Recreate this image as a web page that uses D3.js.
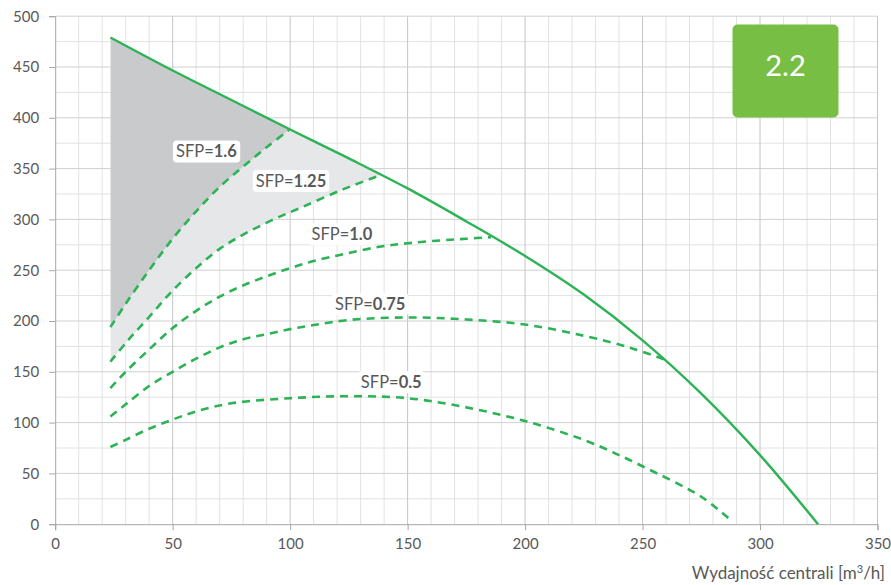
<!DOCTYPE html>
<html>
<head>
<meta charset="utf-8">
<script src="https://cdn.jsdelivr.net/npm/d3@7"></script>
<style>
  html, body { margin: 0; padding: 0; background: #fff; }
  svg { display: block; font-family: Lato, 'Open Sans', sans-serif; }
</style>
</head>
<body>
<div id="chart"></div>
<script>
// axis ticks
const xTicks = [0, 50, 100, 150, 200, 250, 300, 350];
const yTicks = [0, 50, 100, 150, 200, 250, 300, 350, 400, 450, 500];

// fan curve (max pressure vs. airflow)
const mainCurve = [[23.5, 479], [50, 446.5], [75, 417.5], [100, 388.5], [125, 360],
    [150, 330.5], [175, 298], [200, 264], [225, 226], [250, 181], [275, 128.5],
    [300, 68], [324.7, 0]];

// SFP iso-lines
const sfp16 = [[23.5, 194], [30, 217], [40, 250], [50, 281], [60, 308], [70, 332],
    [80, 352], [90, 371], [99.5, 388]];
const sfp125 = [[23.5, 160], [31, 181], [40, 204], [50, 230], [60, 252], [70, 271],
    [80, 285], [92, 299], [105, 312], [123, 330], [138.5, 343.5]];
const sfp10 = [[23.5, 134], [30, 150], [40, 172], [50, 193], [60, 210], [70, 224],
    [80, 235], [90, 244], [100, 252], [110, 259], [123, 266], [138, 273], [150, 276.5],
    [165, 279.5], [175, 281], [185.5, 282.5]];
const sfp075 = [[23.5, 106], [30, 118], [40, 136], [50, 150], [60, 163], [70, 174],
    [80, 182], [90, 187], [100, 192], [110, 196], [125, 201], [150, 203.5], [175, 201.5],
    [200, 196.5], [225, 185.5], [245, 173.5], [259.5, 162]];
const sfp05 = [[23.5, 76], [30, 83], [40, 94], [50, 103], [60, 111], [75, 119], [100, 124],
    [125, 126], [150, 124], [175, 115], [200, 101.5], [225, 83], [240, 68], [250, 57],
    [275, 27], [287, 5]];

const sfpValues = ['1.6', '1.25', '1.0', '0.75', '0.5'];
const badgeText = '2.2';

const width = 891, height = 585;
const green = '#2bb355';

const svg = d3.select('#chart').append('svg')
    .attr('width', width)
    .attr('height', height);

const x = d3.scaleLinear().domain([0, 350]).range([55.2, 877.5]);
const y = d3.scaleLinear().domain([0, 500]).range([524.2, 16.2]);

// grid
const grid = svg.append('g');
grid.selectAll('.vminor')
    .data(d3.range(10, 351, 10).filter(d => d % 50 !== 0))
    .enter().append('line')
    .attr('x1', d => x(d)).attr('x2', d => x(d))
    .attr('y1', y(0)).attr('y2', y(500))
    .attr('stroke', '#e2e2e2').attr('stroke-width', 1);
grid.selectAll('.hminor')
    .data(d3.range(25, 501, 50))
    .enter().append('line')
    .attr('x1', x(0)).attr('x2', x(350))
    .attr('y1', d => y(d)).attr('y2', d => y(d))
    .attr('stroke', '#e2e2e2').attr('stroke-width', 1);
grid.selectAll('.vmajor')
    .data(xTicks.slice(1))
    .enter().append('line')
    .attr('x1', d => x(d)).attr('x2', d => x(d))
    .attr('y1', y(0)).attr('y2', y(500))
    .attr('stroke', '#c4c4c4').attr('stroke-width', 1);
grid.selectAll('.hmajor')
    .data(yTicks.slice(1))
    .enter().append('line')
    .attr('x1', x(0)).attr('x2', x(350))
    .attr('y1', d => y(d)).attr('y2', d => y(d))
    .attr('stroke', '#d0d0d0').attr('stroke-width', 1);

// axes
const xAxis = svg.append('g')
    .attr('transform', `translate(0, ${y(0)})`)
    .call(d3.axisBottom(x).tickValues(xTicks).tickSize(6).tickPadding(8));
const yAxis = svg.append('g')
    .attr('transform', `translate(${x(0)}, 0)`)
    .call(d3.axisLeft(y).tickValues(yTicks).tickSize(6).tickPadding(10));
[xAxis, yAxis].forEach(a => {
    a.select('.domain').attr('stroke', '#a6a6a6');
    a.selectAll('.tick line').attr('stroke', '#a6a6a6');
    a.selectAll('.tick text')
        .attr('fill', '#595959')
        .style('font-size', '15px')
        .style('font-family', 'Lato, sans-serif');
});

// shaded regions, clipped below the fan curve
const curve = d3.curveCatmullRom.alpha(0.5);
const areaBelow = d3.area()
    .x(d => x(d[0]))
    .y0(y(0))
    .y1(d => y(d[1]))
    .curve(curve);
svg.append('clipPath').attr('id', 'under-main')
    .append('path').attr('d', areaBelow(mainCurve));

const areaAbove = d3.area()
    .x(d => x(d[0]))
    .y0(y(500))
    .y1(d => y(d[1]))
    .curve(curve);
const shade = svg.append('g').attr('clip-path', 'url(#under-main)');
shade.append('path').attr('d', areaAbove(sfp125)).attr('fill', '#e6e7e9');
shade.append('path').attr('d', areaAbove(sfp16)).attr('fill', '#c9cacc');

// curves
const line = d3.line()
    .x(d => x(d[0]))
    .y(d => y(d[1]))
    .curve(curve);

[sfp16, sfp125, sfp10, sfp075, sfp05].forEach(c => {
    svg.append('path')
        .datum(c)
        .attr('fill', 'none')
        .attr('stroke', green)
        .attr('stroke-width', 2.6)
        .attr('stroke-dasharray', '8,6')
        .attr('d', line);
});

svg.append('path')
    .datum(mainCurve)
    .attr('fill', 'none')
    .attr('stroke', green)
    .attr('stroke-width', 2.4)
    .attr('d', line);

// SFP labels (text start / baseline in data units)
const labelAnchors = [[51.4, 361], [85.4, 332], [109.1, 279.5], [119.1, 210.5], [130.1, 134]];
sfpValues.forEach((v, i) => {
    const g = svg.append('g');
    const t = g.append('text')
        .attr('x', x(labelAnchors[i][0]))
        .attr('y', y(labelAnchors[i][1]))
        .attr('fill', '#595959')
        .style('font-size', '16.5px');
    t.append('tspan').text('SFP=');
    t.append('tspan').style('font-weight', 'bold').text(v);
    const bb = t.node().getBBox();
    g.insert('rect', 'text')
        .attr('x', bb.x - 3)
        .attr('y', bb.y - 1)
        .attr('width', bb.width + 6)
        .attr('height', bb.height + 2)
        .attr('rx', 4)
        .attr('fill', '#fff');
});

// badge
svg.append('rect')
    .attr('x', 732.5).attr('y', 24.5)
    .attr('width', 106).attr('height', 93)
    .attr('rx', 5)
    .attr('fill', '#77bf44');
svg.append('text')
    .attr('x', 785.5).attr('y', 76)
    .attr('text-anchor', 'middle')
    .attr('fill', '#fff')
    .style('font-size', '29px')
    .text(badgeText);

// x axis title
const title = svg.append('text')
    .attr('x', 885).attr('y', 579)
    .attr('text-anchor', 'end')
    .attr('fill', '#595959')
    .style('font-size', '17px');
title.append('tspan').text('Wydajność centrali [m');
title.append('tspan').attr('dy', -6).style('font-size', '11px').text('3');
title.append('tspan').attr('dy', 6).text('/h]');
</script>
</body>
</html>
